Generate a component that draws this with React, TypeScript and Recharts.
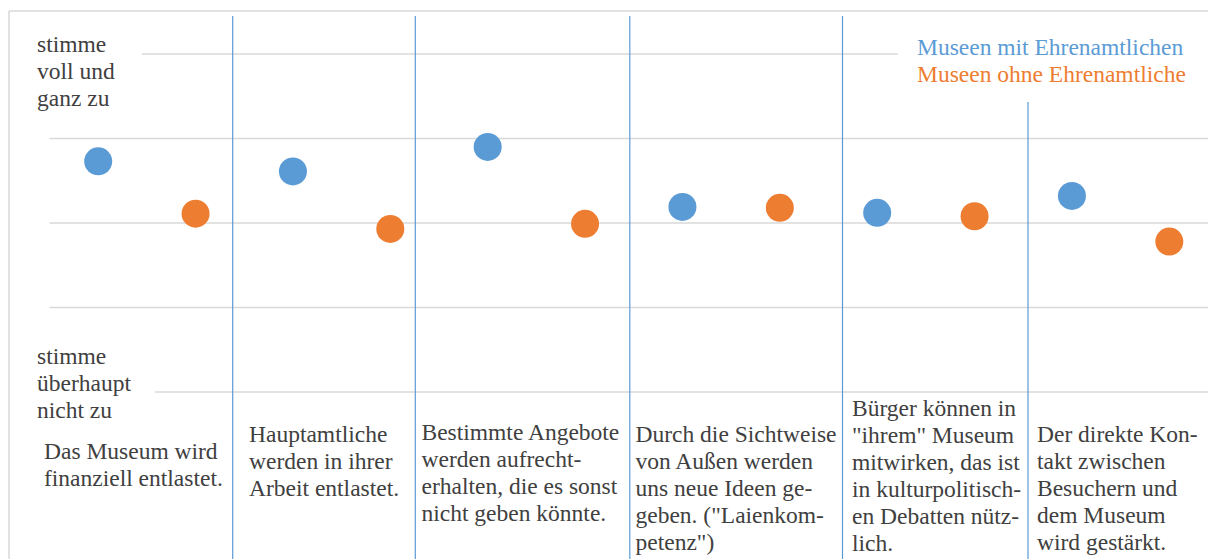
import React from "react";
import { ScatterChart, Scatter, XAxis, YAxis, CartesianGrid } from "recharts";

// ---- data ----
const statements: string[][] = [
  ["Das Museum wird", "finanziell entlastet."],
  ["Hauptamtliche", "werden in ihrer", "Arbeit entlastet."],
  ["Bestimmte Angebote", "werden aufrecht-", "erhalten, die es sonst", "nicht geben könnte."],
  ["Durch die Sichtweise", "von Außen werden", "uns neue Ideen ge-", "geben. (\"Laienkom-", "petenz\")"],
  ["Bürger können in", "\"ihrem\" Museum", "mitwirken, das ist", "in kulturpolitisch-", "en Debatten nütz-", "lich."],
  ["Der direkte Kon-", "takt zwischen", "Besuchern und", "dem Museum", "wird gestärkt."],
];
// 1 = stimme voll und ganz zu ... 5 = stimme überhaupt nicht zu
const withVolunteers = [2.27, 2.39, 2.1, 2.81, 2.88, 2.68];
const withoutVolunteers = [2.89, 3.07, 3.01, 2.82, 2.92, 3.22];
const yTicks = [1, 2, 3, 4, 5];
const topLabel = ["stimme", "voll und", "ganz zu"];
const bottomLabel = ["stimme", "überhaupt", "nicht zu"];
const seriesNames = ["Museen mit Ehrenamtlichen", "Museen ohne Ehrenamtliche"];

// ---- layout / style ----
const BLUE = "#5B9BD5";
const ORANGE = "#ED7D31";
const TEXT = "#404040";
const GRID = "#d9d9d9";
const FONT = "Liberation Serif, DejaVu Serif, serif";
const FS = 23.5;
const LH = 27;
const labelPos = [
  { x: 44, y: 459 },
  { x: 249, y: 442 },
  { x: 421.5, y: 440 },
  { x: 635.5, y: 441.5 },
  { x: 852, y: 416 },
  { x: 1037, y: 441.5 },
];
const dividers = [
  { x: 232.7, y: 16 },
  { x: 415.3, y: 16 },
  { x: 629.8, y: 16 },
  { x: 842.5, y: 16 },
  { x: 1028, y: 102 },
];

const withData = withVolunteers.map((v, i) => ({ x: 2 * i, y: v }));
const withoutData = withoutVolunteers.map((v, i) => ({ x: 2 * i + 1, y: v }));

const dot = (color: string) => (props: any) => {
  const { cx, cy } = props;
  if (cx == null || cy == null) return <g />;
  return <circle cx={cx} cy={cy} r={14} fill={color} />;
};

function Lines({ lines, x, y, color = TEXT }: { lines: string[]; x: number; y: number; color?: string }) {
  return (
    <text x={x} y={y} fill={color} style={{ fontFamily: FONT, fontSize: FS }}>
      {lines.map((l, i) => (
        <tspan key={i} x={x} y={y + i * LH}>
          {l}
        </tspan>
      ))}
    </text>
  );
}

export default function App() {
  return (
    <div
      style={{
        position: "absolute",
        left: 0,
        top: 0,
        width: 1208,
        height: 559,
        overflow: "hidden",
        background: "#fff",
        fontFamily: FONT,
      }}
    >
      <ScatterChart
        width={1230}
        height={559}
        margin={{ top: 54, right: 12, bottom: 167, left: 49.5 }}
      >
        <CartesianGrid vertical={false} stroke={GRID} strokeWidth={1.5} />
        <XAxis type="number" dataKey="x" domain={[-0.5, 11.5]} hide />
        <YAxis type="number" dataKey="y" domain={[1, 5]} ticks={yTicks} reversed hide />
        <Scatter
          name={seriesNames[0]}
          data={withData}
          fill={BLUE}
          shape={dot(BLUE)}
          isAnimationActive={false}
        />
        <Scatter
          name={seriesNames[1]}
          data={withoutData}
          fill={ORANGE}
          shape={dot(ORANGE)}
          isAnimationActive={false}
        />
      </ScatterChart>
      <svg
        width={1208}
        height={559}
        style={{ position: "absolute", left: 0, top: 0, pointerEvents: "none" }}
      >
        {/* frame */}
        <line x1={9} y1={11} x2={1208} y2={11} stroke={GRID} strokeWidth={1.5} />
        <line x1={9} y1={11} x2={9} y2={559} stroke={GRID} strokeWidth={1.5} />
        {/* text boxes covering gridlines */}
        <rect x={10} y={16} width={132} height={100} fill="#fff" />
        <rect x={10} y={336} width={145} height={70} fill="#fff" />
        <rect x={897.7} y={16} width={320} height={86} fill="#fff" />
        {/* dividers */}
        {dividers.map((d, i) => (
          <line key={i} x1={d.x} y1={d.y} x2={d.x} y2={559} stroke={BLUE} strokeWidth={1.2} />
        ))}
        <Lines lines={topLabel} x={37} y={51.5} />
        <Lines lines={bottomLabel} x={37} y={364} />
        {statements.map((s, i) => (
          <Lines key={i} lines={s} x={labelPos[i].x} y={labelPos[i].y} />
        ))}
        <Lines lines={[seriesNames[0]]} x={917} y={55} color={BLUE} />
        <Lines lines={[seriesNames[1]]} x={917} y={82} color={ORANGE} />
      </svg>
    </div>
  );
}
